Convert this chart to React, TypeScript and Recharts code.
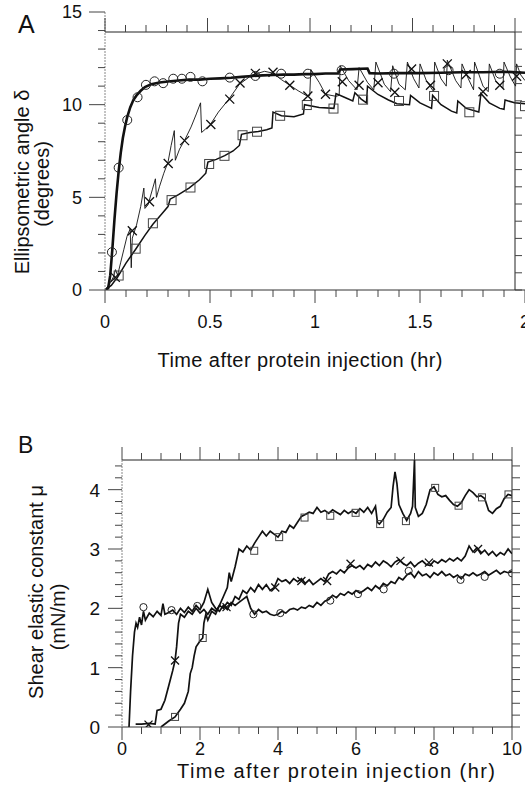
import React from 'react';
import { ComposedChart, Line, Scatter, XAxis, YAxis } from 'recharts';

type Pt = [number, number];

// ---- Panel A: ellipsometric angle vs time (hr) ----
const circleLineA: Pt[] = [
  [0, 0], [0.015, 0.1], [0.025, 0.8], [0.035, 2.2], [0.045, 3.8], [0.055, 5.2], [0.065, 6.4], [0.075, 7.4],
  [0.085, 8.2], [0.095, 8.8], [0.105, 9.3], [0.12, 9.85], [0.135, 10.25], [0.15, 10.5], [0.17, 10.75],
  [0.19, 10.95], [0.22, 11.1], [0.26, 11.2], [0.3, 11.25], [0.35, 11.3], [0.4, 11.35], [0.45, 11.35],
  [0.5, 11.4], [0.55, 11.42], [0.6, 11.45], [0.65, 11.5], [0.7, 11.55], [0.75, 11.58], [0.8, 11.6],
  [0.85, 11.62], [0.9, 11.62], [0.95, 11.65], [1.0, 11.65], [1.05, 11.68], [1.11, 11.68], [1.12, 11.9],
  [1.18, 11.92], [1.25, 11.95], [1.26, 11.7], [1.3, 11.68], [1.4, 11.7], [1.5, 11.7], [1.6, 11.72],
  [1.7, 11.75], [1.8, 11.75], [1.9, 11.78], [2.0, 11.72],
];
const circleMarksA: Pt[] = [
  [0.033, 2.04], [0.065, 6.6], [0.106, 9.17], [0.155, 10.4], [0.195, 11.07], [0.236, 11.26], [0.277, 11.16],
  [0.325, 11.4], [0.366, 11.4], [0.407, 11.5], [0.464, 11.26], [0.594, 11.46], [0.716, 11.55], [0.839, 11.67],
  [0.966, 11.67], [1.127, 11.86], [1.376, 11.67], [1.636, 11.86], [1.88, 11.67],
];
const crossLineA: Pt[] = [
  [0, 0], [0.02, 0.3], [0.04, 0.7], [0.05, 1.1], [0.06, 0.8], [0.075, 1.5], [0.09, 2.2], [0.105, 2.9],
  [0.12, 3.3], [0.125, 1.2], [0.13, 2.8], [0.15, 3.5], [0.17, 4.5], [0.185, 5.5], [0.19, 4.4], [0.205, 4.6],
  [0.225, 5.4], [0.24, 6.0], [0.245, 5.0], [0.26, 5.6], [0.28, 6.3], [0.3, 6.9], [0.315, 7.8], [0.33, 8.6],
  [0.335, 7.0], [0.355, 7.6], [0.38, 8.1], [0.41, 8.8], [0.435, 9.5], [0.455, 10.1], [0.46, 8.5], [0.48, 8.7],
  [0.5, 8.9], [0.54, 9.6], [0.59, 10.3], [0.64, 11.1], [0.7, 11.6], [0.76, 11.8], [0.8, 11.7], [0.84, 11.35],
  [0.88, 11.05], [0.92, 10.75], [0.965, 10.45], [0.975, 10.5], [0.98, 11.9], [1.02, 11.2], [1.05, 10.56],
  [1.1, 10.45], [1.115, 10.5], [1.12, 12.1], [1.16, 11.3], [1.2, 10.8], [1.21, 12.0], [1.25, 11.2],
  [1.28, 10.8], [1.29, 12.3], [1.33, 11.1], [1.36, 10.7], [1.37, 12.1], [1.4, 11.1], [1.43, 10.8],
  [1.44, 12.3], [1.47, 11.4], [1.495, 10.9], [1.5, 12.2], [1.53, 11.3], [1.565, 10.7], [1.57, 12.3],
  [1.6, 11.4], [1.625, 11.0], [1.63, 12.4], [1.67, 11.3], [1.695, 10.9], [1.7, 12.2], [1.73, 11.4],
  [1.755, 10.8], [1.76, 12.3], [1.8, 11.0], [1.825, 10.7], [1.83, 12.2], [1.86, 11.3], [1.895, 10.9],
  [1.9, 12.3], [1.93, 11.5], [1.955, 11.0], [1.96, 12.2], [1.98, 11.6], [2.0, 11.3],
];
const crossMarksA: Pt[] = [
  [0.049, 0.68], [0.13, 3.2], [0.212, 4.76], [0.301, 6.83], [0.379, 8.06], [0.504, 8.93], [0.594, 10.3],
  [0.643, 11.17], [0.716, 11.69], [0.8, 11.75], [0.88, 11.05], [0.966, 10.47], [1.05, 10.56], [1.13, 11.24],
  [1.21, 11.05], [1.3, 11.18], [1.38, 10.67], [1.46, 11.92], [1.55, 11.05], [1.63, 12.2], [1.72, 11.63],
  [1.8, 10.7], [1.88, 11.05], [1.96, 11.53],
];
const squareLineA: Pt[] = [
  [0, 0], [0.03, 0.25], [0.06, 0.7], [0.1, 1.45], [0.146, 2.2], [0.19, 2.95], [0.228, 3.55], [0.27, 4.1],
  [0.3, 4.5], [0.31, 4.9], [0.35, 5.15], [0.4, 5.5], [0.45, 5.95], [0.48, 6.3], [0.49, 6.9], [0.53, 7.05],
  [0.57, 7.25], [0.61, 7.5], [0.64, 7.8], [0.65, 8.4], [0.69, 8.5], [0.73, 8.55], [0.77, 8.65], [0.795, 8.75],
  [0.8, 9.6], [0.84, 9.4], [0.9, 9.35], [0.945, 9.5], [0.95, 10.0], [1.02, 9.85], [1.09, 9.8], [1.1, 10.6],
  [1.14, 10.4], [1.18, 10.2], [1.19, 10.65], [1.22, 10.3], [1.245, 10.1], [1.25, 11.0], [1.3, 10.55],
  [1.35, 10.25], [1.39, 10.05], [1.45, 10.0], [1.455, 10.5], [1.5, 10.1], [1.555, 9.8], [1.56, 10.5],
  [1.6, 10.0], [1.65, 9.65], [1.675, 9.55], [1.68, 10.2], [1.72, 9.8], [1.78, 9.6], [1.79, 10.6],
  [1.83, 10.1], [1.88, 9.8], [1.9, 9.75], [1.905, 10.25], [1.95, 10.1], [2.0, 10.05],
];
const squareMarksA: Pt[] = [
  [0.065, 0.78], [0.146, 2.23], [0.228, 3.6], [0.317, 4.85], [0.407, 5.53], [0.496, 6.8], [0.569, 7.24],
  [0.655, 8.35], [0.724, 8.54], [0.834, 9.4], [0.961, 9.98], [1.088, 9.79], [1.229, 10.27], [1.4, 10.2],
  [1.567, 10.47], [1.735, 9.59], [2.0, 9.92],
];

const xTicksA = [0, 0.1, 0.2, 0.3, 0.4, 0.5, 0.6, 0.7, 0.8, 0.9, 1, 1.1, 1.2, 1.3, 1.4, 1.5, 1.6, 1.7, 1.8, 1.9, 2];
const xMajorA = [0, 0.5, 1, 1.5, 2];
const yTicksA = [0, 1, 2, 3, 4, 5, 6, 7, 8, 9, 10, 11, 12, 13, 14, 15];
const yMajorA = [0, 5, 10, 15];

// ---- Panel B: shear elastic constant vs time (hr) ----
const circleLineB: Pt[] = [
  [0.18, 0], [0.22, 0.6], [0.27, 1.2], [0.32, 1.6], [0.36, 1.75], [0.4, 1.68], [0.45, 1.85], [0.5, 1.72],
  [0.55, 1.95], [0.6, 1.8], [0.7, 1.92], [0.8, 1.86], [0.9, 1.95], [1.0, 1.88], [1.05, 2.08], [1.1, 1.9],
  [1.2, 1.93], [1.3, 1.97], [1.4, 1.9], [1.5, 2.0], [1.6, 1.93], [1.7, 2.02], [1.8, 1.95], [1.9, 2.05],
  [2.0, 1.98], [2.1, 2.1], [2.2, 2.32], [2.3, 2.1], [2.4, 2.0], [2.5, 1.95], [2.6, 2.05], [2.7, 1.98],
  [2.8, 2.1], [2.9, 2.05], [3.0, 2.1], [3.1, 2.15], [3.2, 2.2], [3.3, 2.0], [3.4, 1.9], [3.5, 1.98],
  [3.6, 1.93], [3.7, 1.95], [3.8, 1.9], [3.9, 1.88], [4.0, 1.9], [4.1, 1.95], [4.2, 1.92], [4.3, 1.98],
  [4.4, 2.0], [4.5, 1.97], [4.6, 2.02], [4.7, 2.0], [4.8, 2.05], [4.9, 2.02], [5.0, 2.1], [5.1, 2.05],
  [5.2, 2.12], [5.3, 2.15], [5.4, 2.22], [5.5, 2.18], [5.6, 2.25], [5.7, 2.22], [5.8, 2.28], [5.9, 2.24],
  [6.0, 2.3], [6.1, 2.26], [6.2, 2.3], [6.3, 2.35], [6.4, 2.3], [6.5, 2.38], [6.6, 2.33], [6.7, 2.42],
  [6.8, 2.38], [6.9, 2.45], [7.0, 2.42], [7.1, 2.52], [7.2, 2.48], [7.3, 2.56], [7.4, 2.6], [7.5, 2.52],
  [7.6, 2.62], [7.7, 2.55], [7.8, 2.58], [7.9, 2.52], [8.0, 2.6], [8.1, 2.56], [8.2, 2.62], [8.3, 2.55],
  [8.4, 2.58], [8.5, 2.52], [8.6, 2.56], [8.7, 2.5], [8.8, 2.58], [8.9, 2.55], [9.0, 2.6], [9.1, 2.55],
  [9.2, 2.58], [9.3, 2.62], [9.4, 2.56], [9.5, 2.6], [9.6, 2.64], [9.7, 2.58], [9.8, 2.62], [9.9, 2.6],
  [10.0, 2.62],
];
const circleMarksB: Pt[] = [
  [0.55, 2.02], [1.27, 1.97], [1.93, 2.04], [3.37, 1.9], [4.06, 1.92], [5.34, 2.13], [6.05, 2.24],
  [6.71, 2.32], [7.35, 2.63], [8.68, 2.48], [9.3, 2.53], [10.0, 2.59],
];
const crossLineB: Pt[] = [
  [0.35, 0.05], [0.5, 0.05], [0.7, 0.06], [0.85, 0.05], [0.9, 0.28], [1.0, 0.3], [1.1, 0.45], [1.2, 0.7],
  [1.3, 0.95], [1.36, 1.12], [1.4, 1.35], [1.45, 1.75], [1.5, 1.9], [1.6, 1.85], [1.7, 1.95], [1.8, 1.9],
  [1.9, 2.0], [2.0, 1.92], [2.1, 1.98], [2.2, 1.9], [2.3, 2.0], [2.4, 1.95], [2.5, 2.05], [2.6, 2.0],
  [2.7, 2.1], [2.8, 2.05], [2.9, 2.2], [3.0, 2.15], [3.1, 2.3], [3.2, 2.25], [3.3, 2.35], [3.4, 2.28],
  [3.5, 2.4], [3.6, 2.32], [3.7, 2.4], [3.8, 2.3], [3.9, 2.35], [4.0, 2.5], [4.1, 2.45], [4.2, 2.48],
  [4.3, 2.42], [4.4, 2.5], [4.5, 2.45], [4.6, 2.5], [4.7, 2.42], [4.8, 2.48], [4.9, 2.4], [5.0, 2.45],
  [5.1, 2.5], [5.2, 2.45], [5.3, 2.58], [5.4, 2.62], [5.5, 2.58], [5.6, 2.65], [5.7, 2.6], [5.8, 2.68],
  [5.9, 2.72], [6.0, 2.68], [6.1, 2.72], [6.2, 2.66], [6.3, 2.74], [6.4, 2.7], [6.5, 2.78], [6.6, 2.72],
  [6.7, 2.8], [6.8, 2.76], [6.9, 2.7], [7.0, 2.78], [7.1, 2.82], [7.2, 2.76], [7.3, 2.72], [7.4, 2.78],
  [7.5, 2.7], [7.6, 2.76], [7.7, 2.8], [7.8, 2.74], [7.9, 2.72], [8.0, 2.8], [8.1, 2.76], [8.2, 2.82],
  [8.3, 2.78], [8.4, 2.84], [8.5, 2.8], [8.6, 2.85], [8.7, 2.8], [8.8, 2.88], [8.9, 3.05], [9.0, 2.95],
  [9.1, 3.02], [9.2, 2.92], [9.3, 2.98], [9.4, 2.9], [9.5, 2.96], [9.6, 2.88], [9.7, 2.94], [9.8, 2.9],
  [9.9, 3.0], [10.0, 2.92],
];
const crossMarksB: Pt[] = [
  [0.68, 0.04], [1.36, 1.12], [2.68, 2.02], [3.93, 2.35], [4.6, 2.46], [5.26, 2.46], [5.86, 2.75],
  [7.14, 2.8], [7.87, 2.77], [9.13, 3.0],
];
const squareLineB: Pt[] = [
  [1.0, 0], [1.1, 0.05], [1.2, 0.1], [1.36, 0.17], [1.5, 0.3], [1.6, 0.4], [1.7, 0.6], [1.75, 0.9],
  [1.8, 1.0], [1.85, 1.2], [1.9, 1.35], [2.0, 1.45], [2.07, 1.5], [2.1, 1.75], [2.15, 1.9], [2.2, 1.8],
  [2.3, 1.95], [2.4, 1.9], [2.5, 2.05], [2.6, 2.2], [2.7, 2.35], [2.75, 2.6], [2.8, 2.45], [2.9, 2.7],
  [3.0, 3.0], [3.1, 2.95], [3.2, 3.05], [3.3, 2.98], [3.4, 3.1], [3.5, 3.2], [3.6, 3.3], [3.7, 3.22],
  [3.8, 3.3], [3.9, 3.25], [4.0, 3.2], [4.1, 3.3], [4.2, 3.28], [4.3, 3.4], [4.4, 3.35], [4.5, 3.45],
  [4.6, 3.55], [4.7, 3.58], [4.8, 3.62], [4.9, 3.6], [5.0, 3.7], [5.1, 3.62], [5.2, 3.65], [5.3, 3.6],
  [5.4, 3.66], [5.5, 3.62], [5.6, 3.58], [5.7, 3.65], [5.8, 3.6], [5.9, 3.64], [6.0, 3.6], [6.1, 3.68],
  [6.2, 3.62], [6.3, 3.7], [6.4, 3.6], [6.5, 3.72], [6.55, 3.45], [6.6, 3.42], [6.7, 3.5], [6.8, 3.62],
  [6.9, 3.7], [6.95, 4.05], [7.0, 4.3], [7.05, 4.1], [7.1, 3.75], [7.2, 3.6], [7.3, 3.48], [7.4, 3.6],
  [7.45, 3.72], [7.5, 4.5], [7.52, 3.7], [7.6, 3.55], [7.7, 3.6], [7.8, 3.75], [7.9, 4.0], [8.0, 4.05],
  [8.1, 3.92], [8.2, 3.88], [8.3, 3.9], [8.4, 3.82], [8.5, 3.75], [8.6, 3.72], [8.7, 3.78], [8.8, 3.9],
  [8.9, 4.0], [9.0, 3.95], [9.1, 3.88], [9.2, 3.9], [9.3, 3.85], [9.4, 3.65], [9.5, 3.6], [9.6, 3.68],
  [9.7, 3.72], [9.8, 3.85], [9.9, 3.92], [10.0, 3.9],
];
const squareMarksB: Pt[] = [
  [1.36, 0.17], [2.07, 1.5], [3.39, 2.97], [4.03, 3.2], [4.68, 3.53], [5.34, 3.56], [5.99, 3.61],
  [6.62, 3.42], [7.28, 3.47], [8.03, 4.03], [8.63, 3.73], [9.23, 3.87], [9.91, 3.92],
];

const xTicksB = [0, 0.5, 1, 1.5, 2, 2.5, 3, 3.5, 4, 4.5, 5, 5.5, 6, 6.5, 7, 7.5, 8, 8.5, 9, 9.5, 10];
const xMajorB = [0, 2, 4, 6, 8, 10];
const yTicksB = [0, 0.2, 0.4, 0.6, 0.8, 1, 1.2, 1.4, 1.6, 1.8, 2, 2.2, 2.4, 2.6, 2.8, 3, 3.2, 3.4, 3.6, 3.8, 4, 4.2, 4.4];
const yMajorB = [0, 1, 2, 3, 4];

const FONT = '"Liberation Sans", Arial, Helvetica, sans-serif';
const INK = '#111';
const TICK = '#444';

const toXY = (a: Pt[]) => a.map(([x, y]) => ({ x, y }));
const isMajorOf = (majors: number[], v: number) => majors.some((m) => Math.abs(m - v) < 1e-6);

type Side = 'left' | 'bottom';
interface TickOpts {
  side: Side;
  majors: number[];
  major: number;
  minor: number;
  gap: number;
  font: number;
  // distance to the opposite frame side, where a mirrored tick is drawn (0 = none)
  mirror: number;
  mMajor: number;
  mMinor: number;
}

// axes use tickSize 0 / tickMargin 0, so x,y is right on the axis line
function makeTick(o: TickOpts) {
  return (props: any) => {
    const { x, y, payload } = props;
    const v = payload.value as number;
    const isMajor = isMajorOf(o.majors, v);
    const len = isMajor ? o.major : o.minor;
    const mlen = isMajor ? o.mMajor : o.mMinor;
    if (o.side === 'left') {
      return (
        <g>
          <line x1={x} y1={y} x2={x - len} y2={y} stroke={TICK} strokeWidth={1} />
          {o.mirror > 0 && <line x1={x + o.mirror} y1={y} x2={x + o.mirror + mlen} y2={y} stroke={TICK} strokeWidth={1} />}
          {isMajor && (
            <text x={x - o.gap} y={y + o.font * 0.36} textAnchor="end" fontSize={o.font} fontFamily={FONT} fill={INK}>
              {String(v)}
            </text>
          )}
        </g>
      );
    }
    return (
      <g>
        <line x1={x} y1={y} x2={x} y2={y + len} stroke={TICK} strokeWidth={1} />
        {o.mirror > 0 && <line x1={x} y1={y - o.mirror} x2={x} y2={y - o.mirror - mlen} stroke={TICK} strokeWidth={1} />}
        {isMajor && (
          <text x={x} y={y + o.gap} textAnchor="middle" fontSize={o.font} fontFamily={FONT} fill={INK}>
            {String(v)}
          </text>
        )}
      </g>
    );
  };
}

const circleShape = (r: number) => (p: any) => (
  <circle cx={p.cx} cy={p.cy} r={r} fill="none" stroke="#222" strokeWidth={1} />
);
const squareShape = (s: number) => (p: any) => (
  <rect x={p.cx - s / 2} y={p.cy - s / 2} width={s} height={s} fill="none" stroke="#444" strokeWidth={1} />
);
const crossShape = (s: number) => (p: any) => (
  <path
    d={`M${p.cx - s / 2},${p.cy - s / 2}L${p.cx + s / 2},${p.cy + s / 2}M${p.cx - s / 2},${p.cy + s / 2}L${p.cx + s / 2},${p.cy - s / 2}`}
    stroke="#111"
    strokeWidth={1.3}
    fill="none"
  />
);

// plot area A: x 105..515, y 32..290 ; plot area B: x 122..512, y 460..727 (page px)
const A_BOX = { left: 105, right: 515, top: 32, bottom: 290, xMax: 2, yMax: 15 };

function PanelA() {
  return (
    <ComposedChart width={525} height={345} margin={{ top: 12, right: 0, bottom: 15, left: 45 }}>
      <XAxis
        dataKey="x" type="number" domain={[0, 2]} ticks={xTicksA} interval={0} allowDataOverflow
        height={40} tickSize={0} tickMargin={0} tickLine={false} axisLine={{ stroke: '#333' }}
        tick={makeTick({ side: 'bottom', majors: xMajorA, major: 13, minor: 7, gap: 38, font: 18, mirror: 0, mMajor: 0, mMinor: 0 })}
      />
      <YAxis
        dataKey="y" type="number" domain={[0, 15]} ticks={yTicksA} interval={0} allowDataOverflow
        width={60} tickSize={0} tickMargin={0} tickLine={false} axisLine={{ stroke: '#888', strokeDasharray: '2 1' }}
        tick={makeTick({ side: 'left', majors: yMajorA, major: 16, minor: 7, gap: 23, font: 18, mirror: 0, mMajor: 0, mMinor: 0 })}
      />
      <Line data={toXY(squareLineA)} dataKey="y" type="linear" stroke={INK} strokeWidth={1.5} dot={false} isAnimationActive={false} />
      <Line data={toXY(crossLineA)} dataKey="y" type="linear" stroke={INK} strokeWidth={0.9} dot={false} isAnimationActive={false} />
      <Line data={toXY(circleLineA)} dataKey="y" type="linear" stroke={INK} strokeWidth={2.6} dot={false} isAnimationActive={false} />
      <Scatter data={toXY(squareMarksA)} dataKey="y" shape={squareShape(9)} isAnimationActive={false} />
      <Scatter data={toXY(crossMarksA)} dataKey="y" shape={crossShape(9)} isAnimationActive={false} />
      <Scatter data={toXY(circleMarksA)} dataKey="y" shape={circleShape(4.5)} isAnimationActive={false} />
    </ComposedChart>
  );
}

// top and right frame of panel A with outward ticks, drawn above the chart
function FrameA() {
  const b = A_BOX;
  const sx = (v: number) => b.left + (v / b.xMax) * (b.right - b.left);
  const sy = (v: number) => b.bottom - (v / b.yMax) * (b.bottom - b.top);
  return (
    <g stroke="#222" strokeWidth={1} fill="none">
      <line x1={b.left} y1={b.top} x2={b.right} y2={b.top} />
      <line x1={b.right} y1={b.top} x2={b.right} y2={b.bottom} />
      {xTicksA.map((v) => (
        <line key={`t${v}`} x1={sx(v)} y1={b.top} x2={sx(v)} y2={b.top - (isMajorOf(xMajorA, v) ? 14 : 7)} stroke={TICK} />
      ))}
      {yTicksA.map((v) => (
        <line key={`r${v}`} x1={b.right} y1={sy(v)} x2={b.right + 7} y2={sy(v)} stroke={TICK} />
      ))}
    </g>
  );
}

function PanelB() {
  return (
    <ComposedChart width={525} height={393} margin={{ top: 40, right: 0, bottom: 26, left: 62 }}>
      <XAxis
        dataKey="x" type="number" domain={[0, 10]} ticks={xTicksB} interval={0} allowDataOverflow
        height={40} tickSize={0} tickMargin={0} tickLine={false} axisLine={{ stroke: '#333' }}
        tick={makeTick({ side: 'bottom', majors: xMajorB, major: 13, minor: 7, gap: 28, font: 18, mirror: 267, mMajor: 13, mMinor: 7 })}
      />
      <XAxis
        xAxisId="top" orientation="top" dataKey="x" type="number" domain={[0, 10]} allowDataOverflow
        height={20} tick={false} tickLine={false} axisLine={{ stroke: '#222' }}
      />
      <YAxis
        dataKey="y" type="number" domain={[0, 4.5]} ticks={yTicksB} interval={0} allowDataOverflow
        width={60} tickSize={0} tickMargin={0} tickLine={false} axisLine={{ stroke: '#888', strokeDasharray: '2 1' }}
        tick={makeTick({ side: 'left', majors: yMajorB, major: 14, minor: 7, gap: 22, font: 19, mirror: 390, mMajor: 8, mMinor: 8 })}
      />
      <YAxis
        yAxisId="right" orientation="right" dataKey="y" type="number" domain={[0, 4.5]} allowDataOverflow
        width={13} tick={false} tickLine={false} axisLine={{ stroke: '#222' }}
      />
      <Line xAxisId="top" yAxisId="right" data={toXY(circleLineB)} dataKey="y" stroke="none" dot={false} activeDot={false} legendType="none" isAnimationActive={false} />
      <Line data={toXY(circleLineB)} dataKey="y" type="linear" stroke={INK} strokeWidth={1.7} dot={false} isAnimationActive={false} />
      <Line data={toXY(crossLineB)} dataKey="y" type="linear" stroke={INK} strokeWidth={1.7} dot={false} isAnimationActive={false} />
      <Line data={toXY(squareLineB)} dataKey="y" type="linear" stroke={INK} strokeWidth={1.7} dot={false} isAnimationActive={false} />
      <Scatter data={toXY(circleMarksB)} dataKey="y" shape={circleShape(3.6)} isAnimationActive={false} />
      <Scatter data={toXY(crossMarksB)} dataKey="y" shape={crossShape(8)} isAnimationActive={false} />
      <Scatter data={toXY(squareMarksB)} dataKey="y" shape={squareShape(7)} isAnimationActive={false} />
    </ComposedChart>
  );
}

export default function App() {
  return (
    <div style={{ position: 'absolute', left: 0, top: 0, width: 525, height: 793, background: '#fff', fontFamily: FONT }}>
      <div style={{ position: 'absolute', left: 0, top: 0 }}>
        <PanelA />
      </div>
      <div style={{ position: 'absolute', left: 0, top: 400 }}>
        <PanelB />
      </div>
      <svg width={525} height={793} style={{ position: 'absolute', left: 0, top: 0, pointerEvents: 'none' }}>
        <FrameA />
        <g fontFamily={FONT} fill={INK}>
          <text x={18} y={33} fontSize={25}>A</text>
          <text transform="translate(29,182) rotate(-90)" textAnchor="middle" fontSize={20}>Ellipsometric angle δ</text>
          <text transform="translate(49,184) rotate(-90)" textAnchor="middle" fontSize={20}>(degrees)</text>
          <text x={300} y={367} textAnchor="middle" fontSize={20} textLength={285} lengthAdjust="spacing">
            Time after protein injection (hr)
          </text>
          <text x={18} y={453} fontSize={23}>B</text>
          <text transform="translate(43,592) rotate(-90)" textAnchor="middle" fontSize={20}>Shear elastic constant  μ</text>
          <text transform="translate(65,617) rotate(-90)" textAnchor="middle" fontSize={20}>(mN/m)</text>
          <text x={336} y={778} textAnchor="middle" fontSize={20} textLength={318} lengthAdjust="spacing">
            Time after protein injection (hr)
          </text>
        </g>
      </svg>
    </div>
  );
}
